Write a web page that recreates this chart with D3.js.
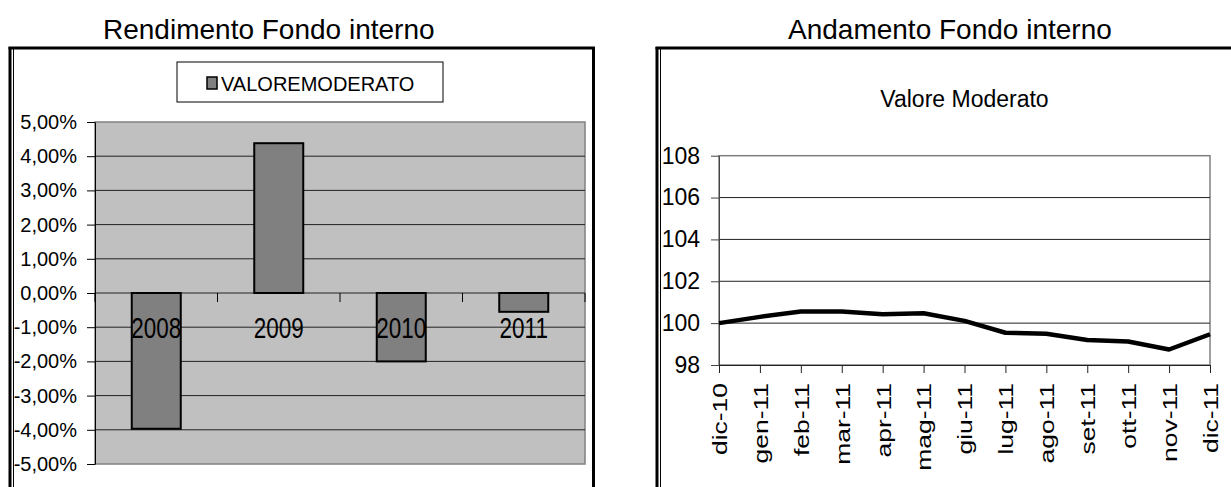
<!DOCTYPE html>
<html lang="it">
<head>
<meta charset="UTF-8">
<title>Rendimento e Andamento Fondo interno</title>
<script src="https://d3js.org/d3.v7.min.js"></script>
<style>
  body { margin: 0; background: #fff; }
  svg { display: block; font-family: "Liberation Sans", Arial, sans-serif; }
  .title { font-size: 28px; fill: #000; }
  .grid { stroke: #222; stroke-width: 1; }
  .frame { stroke: #000; fill: none; }
</style>
</head>
<body>
<svg id="chart" width="1231" height="487"></svg>
<script>
// Rendimento (bar chart)
const years = ["2008", "2009", "2010", "2011"];
const rendimento = [-3.97, 4.38, -2.0, -0.55];
const pctTicks = [5, 4, 3, 2, 1, 0, -1, -2, -3, -4, -5];

// Andamento (line chart)
const months = ["dic-10", "gen-11", "feb-11", "mar-11", "apr-11", "mag-11", "giu-11",
                "lug-11", "ago-11", "set-11", "ott-11", "nov-11", "dic-11"];
const valore = [100.0, 100.3, 100.56, 100.56, 100.42, 100.47, 100.11,
                99.54, 99.49, 99.19, 99.12, 98.74, 99.47];
const valTicks = [98, 100, 102, 104, 106, 108];

const svg = d3.select("#chart");

// ---- page titles and frames
svg.append("text").attr("class", "title").attr("x", 103).attr("y", 39)
    .text("Rendimento Fondo interno");
svg.append("text").attr("class", "title").attr("x", 788).attr("y", 39)
    .text("Andamento Fondo interno");

function frame(x0, x1, closedRight) {
    svg.append("line").attr("class", "frame").attr("stroke-width", 3)
        .attr("x1", x0).attr("x2", x0).attr("y1", 47).attr("y2", 487);
    svg.append("line").attr("class", "frame").attr("stroke-width", 1)
        .attr("x1", x0 + 3.5).attr("x2", x0 + 3.5).attr("y1", 49).attr("y2", 487);
    svg.append("line").attr("class", "frame").attr("stroke-width", 3)
        .attr("x1", x0 - 1.5).attr("x2", x1 + 1.5).attr("y1", 48).attr("y2", 48);
    if (closedRight) {
        svg.append("line").attr("class", "frame").attr("stroke-width", 3)
            .attr("x1", x1).attr("x2", x1).attr("y1", 47).attr("y2", 487);
    }
}
frame(10, 593.5, true);
frame(657, 1240, false);

// ---- left chart: bars
const left = svg.append("g");

const x = d3.scaleBand().domain(years).range([95, 585])
    .paddingInner(0.6).paddingOuter(0.3);
const xCat = d3.scaleBand().domain(years).range([95, 585]).padding(0);
const y = d3.scaleLinear().domain([-5, 5]).range([464, 122]);

left.append("rect")
    .attr("x", 95).attr("y", y(5))
    .attr("width", 490).attr("height", y(-5) - y(5))
    .attr("fill", "#c0c0c0").attr("stroke", "#808080").attr("stroke-width", 1.5);

left.selectAll(".grid").data(pctTicks.filter(d => Math.abs(d) < 5)).join("line")
    .attr("class", "grid")
    .attr("x1", 95).attr("x2", 585)
    .attr("y1", d => y(d)).attr("y2", d => y(d));

const pctFmt = d => (d < 0 ? "-" : "") + Math.abs(d).toFixed(2).replace(".", ",") + "%";

const yAxis = left.append("g")
    .attr("transform", "translate(95,0)")
    .call(d3.axisLeft(y).tickValues(pctTicks).tickSize(8).tickSizeOuter(0)
        .tickPadding(10).tickFormat(pctFmt));
yAxis.attr("font-family", null).attr("font-size", null);
yAxis.selectAll("text").attr("font-size", 20).attr("fill", "#000");
yAxis.selectAll("line, path").attr("stroke", "#000");

// category ticks on the zero line
left.selectAll(".cattick").data(years.map(d => xCat(d)).concat([585])).join("line")
    .attr("class", "cattick")
    .attr("x1", d => d).attr("x2", d => d)
    .attr("y1", y(0)).attr("y2", y(0) + 9)
    .attr("stroke", "#000");

left.selectAll(".bar").data(years).join("rect")
    .attr("class", "bar")
    .attr("x", d => x(d))
    .attr("width", x.bandwidth())
    .attr("y", (d, i) => y(Math.max(0, rendimento[i])))
    .attr("height", (d, i) => Math.abs(y(rendimento[i]) - y(0)))
    .attr("fill", "#808080").attr("stroke", "#000").attr("stroke-width", 2);

left.selectAll(".cat").data(years).join("text")
    .attr("class", "cat")
    .attr("text-anchor", "middle")
    .attr("font-size", 22.5)
    .attr("transform", d => `translate(${xCat(d) + xCat.bandwidth() / 2},338) scale(1,1.3)`)
    .text(d => d);

// legend
left.append("rect")
    .attr("x", 177).attr("y", 62).attr("width", 266).attr("height", 40)
    .attr("fill", "#fff").attr("stroke", "#000").attr("stroke-width", 1);
left.append("rect")
    .attr("x", 207).attr("y", 77).attr("width", 10).attr("height", 12)
    .attr("fill", "#808080").attr("stroke", "#000").attr("stroke-width", 1.5);
left.append("text")
    .attr("x", 221).attr("y", 91).attr("font-size", 20)
    .text("VALOREMODERATO");

// ---- right chart: line
const right = svg.append("g");

const xP = d3.scalePoint().domain(months).range([719, 1210]);
const yV = d3.scaleLinear().domain([98, 108]).range([365, 155.7]);

right.append("rect")
    .attr("x", 719).attr("y", yV(108))
    .attr("width", 1210 - 719).attr("height", yV(98) - yV(108))
    .attr("fill", "#fff").attr("stroke", "#808080").attr("stroke-width", 1.5);

right.selectAll(".grid").data(valTicks.filter(d => d > 98 && d < 108)).join("line")
    .attr("class", "grid")
    .attr("x1", 719).attr("x2", 1210)
    .attr("y1", d => yV(d)).attr("y2", d => yV(d));

right.append("text")
    .attr("x", (719 + 1210) / 2).attr("y", 107)
    .attr("text-anchor", "middle").attr("font-size", 23)
    .text("Valore Moderato");

const vAxis = right.append("g")
    .attr("transform", "translate(719,0)")
    .call(d3.axisLeft(yV).tickValues(valTicks).tickSize(8).tickSizeOuter(0).tickPadding(11));
vAxis.attr("font-family", null).attr("font-size", null);
vAxis.selectAll("text").attr("font-size", 23).attr("fill", "#000");
vAxis.selectAll("line, path").attr("stroke", "#444");

const mAxis = right.append("g")
    .attr("transform", `translate(0,${yV(98)})`)
    .call(d3.axisBottom(xP).tickSize(8).tickSizeOuter(0));
mAxis.attr("font-family", null).attr("font-size", null);
mAxis.selectAll("line, path").attr("stroke", "#222");
mAxis.selectAll("text")
    .attr("font-size", 21).attr("fill", "#000")
    .attr("x", 0).attr("y", 0).attr("dy", "0.35em")
    .attr("text-anchor", "end")
    .attr("transform", "translate(0,18) rotate(-90) scale(1.26,1)");

right.append("path")
    .datum(valore)
    .attr("fill", "none").attr("stroke", "#000").attr("stroke-width", 4.5)
    .attr("stroke-linejoin", "round")
    .attr("d", d3.line().x((d, i) => xP(months[i])).y(d => yV(d)));
</script>
</body>
</html>
